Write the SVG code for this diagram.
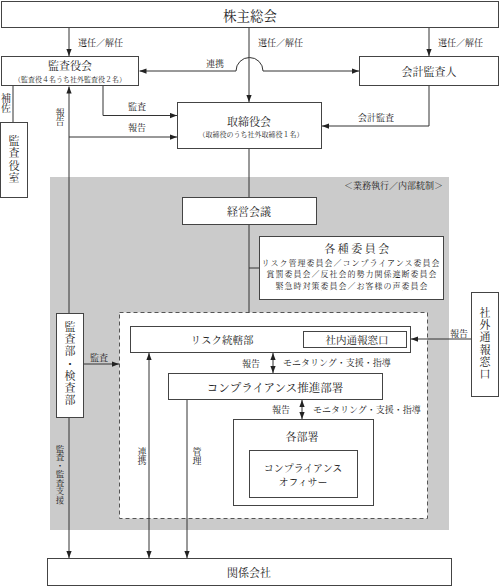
<svg xmlns="http://www.w3.org/2000/svg" width="500" height="586" viewBox="0 0 500 586">
<defs>
<marker id="ah" viewBox="0 0 8 6" refX="8" refY="3" markerWidth="7" markerHeight="6" markerUnits="userSpaceOnUse" orient="auto-start-reverse"><path d="M0,0 L8,3 L0,6 z" fill="#222"/></marker>
<style>
.box{fill:#fff;stroke:#444;stroke-width:1}
.ln{fill:none;stroke:#333;stroke-width:1}
.t{font-family:"Noto Serif CJK JP","Noto Sans CJK JP",serif;fill:#222;text-anchor:middle;dominant-baseline:central}
.s{text-anchor:start}
.v{writing-mode:vertical-rl}
.f7{font-size:7px}.f9{font-size:9px}.f10{font-size:10px}.f11{font-size:11px}
</style>
</defs>
<rect x="0" y="0" width="500" height="586" fill="#fff"/>
<g id="area">
<rect x="50" y="177" width="399" height="353" fill="#cbcbcb"/>
<text class="t f9" x="393.5" y="185">＜業務執行／内部統制＞</text>
<rect x="119.5" y="312.5" width="308" height="206" fill="#fff" stroke="#555" stroke-dasharray="4 3"/>
</g>
<g id="connectors">
<path class="ln" d="M69,27.5 V56" marker-end="url(#ah)"/>
<path class="ln" d="M249,27.5 V102" marker-end="url(#ah)"/>
<path class="ln" d="M429,27.5 V56" marker-end="url(#ah)"/>
<path class="ln" d="M139.5,71 H236 A13.5,13.5 0 0 1 263,71 H359" marker-start="url(#ah)" marker-end="url(#ah)"/>
<path class="ln" d="M103,86 V115.5 H177" marker-end="url(#ah)"/>
<path class="ln" d="M69,313 V86.5" marker-end="url(#ah)"/>
<path class="ln" d="M69,137 H177" marker-end="url(#ah)"/>
<path class="ln" d="M13,86 V122"/>
<path class="ln" d="M429,86 V126 H322" marker-end="url(#ah)"/>
<path class="ln" d="M249,149 V197.5 M249,224.5 V312.5 M249,268 H259"/>
<path class="ln" d="M83.5,364 H119" marker-end="url(#ah)"/>
<path class="ln" d="M69,417.5 V558" marker-end="url(#ah)"/>
<path class="ln" d="M149,558 V353" marker-start="url(#ah)" marker-end="url(#ah)"/>
<path class="ln" d="M187,399.5 V558" marker-end="url(#ah)"/>
<path class="ln" d="M273,353 V373" marker-start="url(#ah)" marker-end="url(#ah)"/>
<path class="ln" d="M302,400 V419" marker-start="url(#ah)" marker-end="url(#ah)"/>
<path class="ln" d="M471,339 H411" marker-end="url(#ah)"/>
<text class="t f9 s" x="78" y="42">選任／解任</text>
<text class="t f9 s" x="258" y="42">選任／解任</text>
<text class="t f9 s" x="438" y="42">選任／解任</text>
<text class="t f9" x="215" y="63">連携</text>
<text class="t f9" x="137" y="106">監査</text>
<text class="t f9" x="137" y="127">報告</text>
<text class="t f9" x="376" y="117">会計監査</text>
<text class="t f10 v" x="6" y="103">補佐</text>
<text class="t f9 v" x="60" y="117">報告</text>
<text class="t f9" x="99" y="357">監査</text>
<text class="t f9" x="459" y="333">報告</text>
<text class="t f9" x="251" y="363">報告</text>
<text class="t f9 s" x="283" y="362">モニタリング・支援・指導</text>
<text class="t f9" x="281" y="409">報告</text>
<text class="t f9 s" x="313" y="409">モニタリング・支援・指導</text>
<text class="t v" x="60" y="474" style="font-size:8.5px">監査・監査支援</text>
<text class="t f9 v" x="142" y="456">連携</text>
<text class="t f9 v" x="197" y="456">管理</text>
</g>
<g id="n-shareholders">
<rect class="box" x="1.5" y="1.5" width="497" height="26"/>
<text class="t" x="250" y="14.5" style="font-size:13.5px">株主総会</text>
</g>
<g id="n-kansayakukai">
<rect class="box" x="1.5" y="56.5" width="137" height="29"/>
<text class="t f11" x="70" y="65">監査役会</text>
<text class="t f7" x="70" y="79">（監査役４名うち社外監査役２名）</text>
</g>
<g id="n-auditor">
<rect class="box" x="359.5" y="56.5" width="139" height="29"/>
<text class="t f11" x="429" y="71">会計監査人</text>
</g>
<g id="n-board">
<rect class="box" x="177.5" y="102.5" width="144" height="46"/>
<text class="t f11" x="249" y="121">取締役会</text>
<text class="t f7" x="251" y="134">（取締役のうち社外取締役１名）</text>
</g>
<g id="n-kansayakushitsu">
<rect class="box" x="0.5" y="122.5" width="27" height="75"/>
<text class="t f11 v" x="14" y="160" style="letter-spacing:1.5px">監査役室</text>
</g>
<g id="n-keiei">
<rect class="box" x="182.5" y="197.5" width="134" height="27"/>
<text class="t f11" x="249" y="211">経営会議</text>
</g>
<g id="n-committees">
<rect class="box" x="259.5" y="236.5" width="184" height="63"/>
<text class="t" x="358" y="248" style="font-size:11px;letter-spacing:2.5px">各種委員会</text>
<text class="t" x="351" y="262" style="font-size:8px;letter-spacing:1px">リスク管理委員会／コンプライアンス委員会</text>
<text class="t" x="352" y="273.5" style="font-size:8px;letter-spacing:1px">賞罰委員会／反社会的勢力関係遮断委員会</text>
<text class="t" x="352" y="285" style="font-size:8px;letter-spacing:1px">緊急時対策委員会／お客様の声委員会</text>
</g>
<g id="n-external">
<rect class="box" x="471.5" y="292.5" width="27" height="104"/>
<text class="t f11 v" x="485" y="344" style="letter-spacing:1.3px">社外通報窓口</text>
</g>
<g id="n-audit">
<rect class="box" x="56.5" y="313.5" width="27" height="104"/>
<text class="t f11 v" x="70" y="364" style="letter-spacing:1.3px">監査部・検査部</text>
</g>
<g id="n-risk">
<rect class="box" x="130.5" y="326.5" width="280" height="26"/>
<text class="t" x="222" y="339" style="font-size:10.5px">リスク統轄部</text>
</g>
<g id="n-internal">
<rect class="box" x="303.5" y="331.5" width="103" height="16"/>
<text class="t" x="357" y="339.5" style="font-size:10.5px">社内通報窓口</text>
</g>
<g id="n-compliance">
<rect class="box" x="168.5" y="373.5" width="214" height="26"/>
<text class="t" x="275" y="386.5" style="font-size:11.5px">コンプライアンス推進部署</text>
</g>
<g id="n-depts">
<rect class="box" x="233.5" y="419.5" width="140" height="86"/>
<text class="t f11" x="302" y="436">各部署</text>
</g>
<g id="n-officer">
<rect class="box" x="249.5" y="450.5" width="108" height="47"/>
<text class="t f10" x="303" y="467">コンプライアンス</text>
<text class="t f10" x="303" y="481">オフィサー</text>
</g>
<g id="n-affiliates">
<rect class="box" x="47.5" y="558.5" width="404" height="27"/>
<text class="t f11" x="249" y="572">関係会社</text>
</g>
</svg>
